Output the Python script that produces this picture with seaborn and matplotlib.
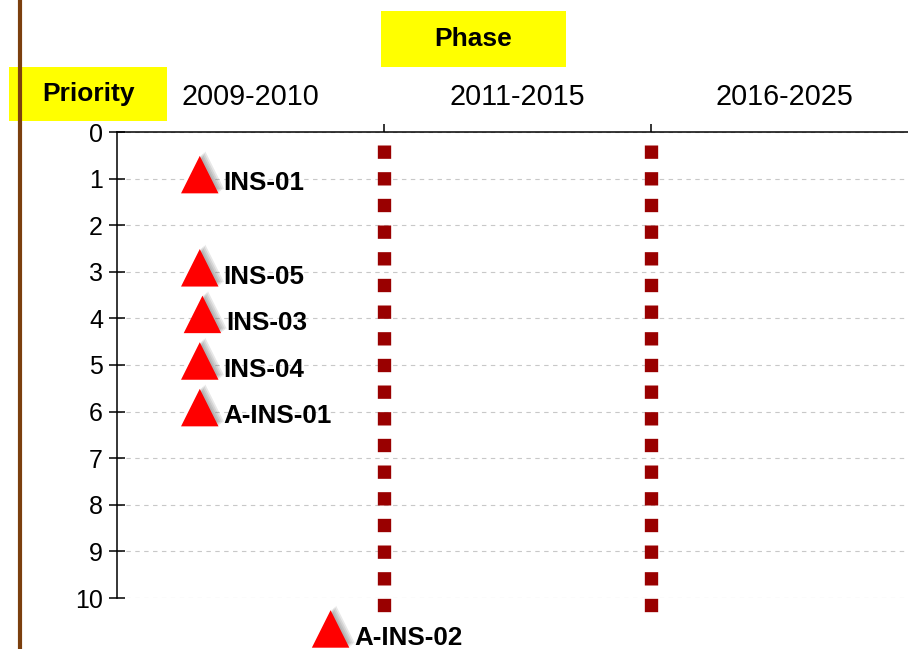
import seaborn as sns
import pandas as pd
import matplotlib.pyplot as plt
import matplotlib.patheffects as pe
import matplotlib.transforms as mtransforms
from matplotlib.patches import Rectangle
from matplotlib.lines import Line2D

# data
ins_ids = ['INS-01', 'INS-05', 'INS-03', 'INS-04', 'A-INS-01', 'A-INS-02']
phase_pos = [0.31, 0.31, 0.32, 0.31, 0.31, 0.80]
priority = [1, 3, 4, 5, 6, 10.75]

phases = ['2009-2010', '2011-2015', '2016-2025']
phase_centers = [0.5, 1.5, 2.5]
phase_bounds = [1, 2]
priority_ticks = list(range(0, 11))

df = pd.DataFrame({'id': ins_ids, 'phase': phase_pos, 'priority': priority})

sns.set_theme(style='white')
plt.rcParams['font.family'] = ['Liberation Sans', 'DejaVu Sans']
plt.rcParams['text.color'] = 'black'

fig = plt.figure(figsize=(9.08, 6.49), dpi=100)
ax = fig.add_axes([117 / 908, 1 - 598 / 649, 1 - 117 / 908, 466 / 649])

ax.set_xlim(0, 791 / 267)
ax.set_ylim(10, 0)

# phase separators (dark red square dots)
for b in phase_bounds:
    ax.plot([b, b], [0.28, 10.29], color='#990000', lw=9.6, dashes=(1, 1),
            dash_capstyle='butt', clip_on=False, zorder=2)

# triangles, nudged a bit up like the original
tri_tr = mtransforms.offset_copy(ax.transData, fig=fig, x=0, y=4, units='dots')
sns.scatterplot(data=df, x='phase', y='priority', marker='^', s=27 ** 2,
                color='#ff0000', edgecolor='none', linewidth=0, ax=ax,
                transform=tri_tr, clip_on=False, zorder=4, legend=False)
# soft grey shadow up and to the right
shadow = [pe.SimplePatchShadow(offset=(d, d * 0.8), shadow_rgbFace='#444444', alpha=0.12)
          for d in (1, 2, 3, 4)]
for coll in ax.collections:
    coll.set_path_effects(shadow + [pe.Normal()])

for name, x, y in zip(ins_ids, phase_pos, priority):
    ax.annotate(name, (x, y), xytext=(17, -3.5), textcoords='offset points',
                ha='left', va='center', fontsize=18.7, fontweight='bold',
                color='black', annotation_clip=False, zorder=5)

# axes styling
for s in ['right', 'bottom']:
    ax.spines[s].set_visible(False)
for s in ['left', 'top']:
    ax.spines[s].set_color('black')
    ax.spines[s].set_linewidth(1.1)

ax.set_yticks(priority_ticks)
ax.set_yticklabels([str(t) for t in priority_ticks], fontsize=18)
ax.tick_params(axis='y', direction='inout', length=12, width=1.1, color='black',
               left=True, pad=4, labelcolor='black')

ax.xaxis.tick_top()
ax.set_xticks(phase_bounds)
ax.set_xticklabels([])
ax.set_xticks(phase_centers, minor=True)
ax.set_xticklabels(phases, minor=True, fontsize=20.7)
ax.tick_params(axis='x', which='major', direction='out', length=6, width=1.1, color='black', top=True)
ax.tick_params(axis='x', which='minor', length=0, pad=15, labelcolor='black', top=True)

ax.yaxis.grid(True, linestyle=(0, (4, 4)), color='#c8c8c8', linewidth=0.8)
ax.xaxis.grid(False)
ax.set_xlabel('')
ax.set_ylabel('')

# yellow header boxes
def header(x0, y0, x1, y1, text):
    fig.patches.append(Rectangle((x0 / 908, 1 - y1 / 649), (x1 - x0) / 908, (y1 - y0) / 649,
                                 transform=fig.transFigure, facecolor='#ffff00', edgecolor='none'))
    fig.text((x0 + x1) / 2 / 908, 1 - (y0 + y1) / 2 / 649, text, ha='center', va='center',
             fontsize=19, fontweight='bold', color='black')

header(9, 67, 167, 121, 'Priority')
header(381, 11, 566, 67, 'Phase')

# brown rule on the left edge
fig.lines.append(Line2D([19.5 / 908, 19.5 / 908], [0, 1], transform=fig.transFigure,
                        color='#7b3f0e', linewidth=3))

fig.savefig('out.png', dpi=100)
